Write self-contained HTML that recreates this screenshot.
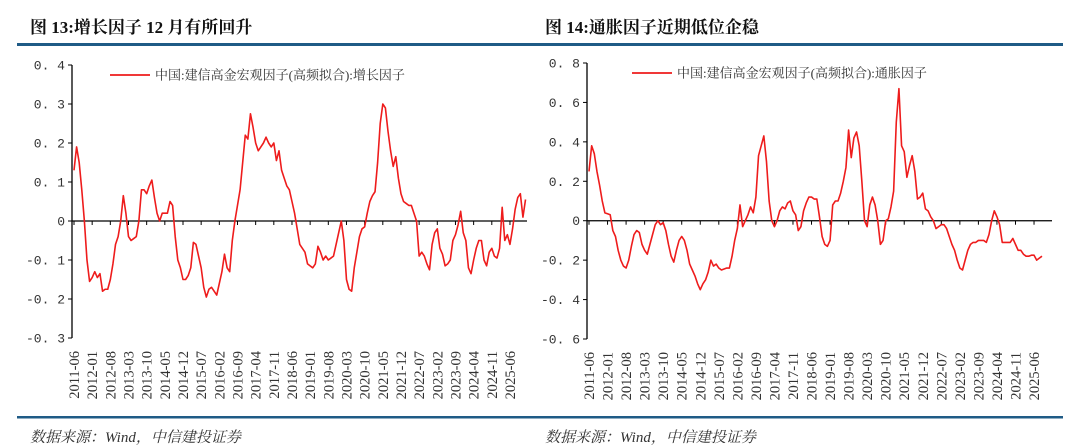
<!DOCTYPE html>
<html><head><meta charset="utf-8">
<style>
body{margin:0;width:1080px;height:448px;background:#fff;overflow:hidden;font-family:"Liberation Serif","Noto Serif CJK SC",serif;}
svg{display:block}
</style></head>
<body>
<svg id="c" width="1080" height="448" xmlns="http://www.w3.org/2000/svg">
  <text x="30" y="33" font-size="17" font-weight="bold" fill="#111" font-family="Liberation Serif, Noto Serif CJK SC, serif">图 13:增长因子 12 月有所回升</text>
  <text x="545" y="33" font-size="17" font-weight="bold" fill="#111" font-family="Liberation Serif, Noto Serif CJK SC, serif">图 14:通胀因子近期低位企稳</text>
  <rect x="17" y="43" width="523" height="3" fill="#1f5b86"/>
  <rect x="540" y="43" width="523" height="3" fill="#1f5b86"/>
  <rect x="17" y="416" width="523" height="2.5" fill="#1f5b86"/>
  <rect x="540" y="416" width="523" height="2.5" fill="#1f5b86"/>
  <text x="30" y="442" font-size="15" font-style="italic" fill="#333">数据来源：Wind，中信建投证券</text>
  <text x="545" y="442" font-size="15" font-style="italic" fill="#333">数据来源：Wind，中信建投证券</text>
  <g id="g1"></g>
  <g id="g2"></g>
</svg>
<script>
const startYear = 2011, startMonth = 6;
const tickLabels = ["2011-06","2012-01","2012-08","2013-03","2013-10","2014-05","2014-12","2015-07","2016-02","2016-09","2017-04","2017-11","2018-06","2019-01","2019-08","2020-03","2020-10","2021-05","2021-12","2022-07","2023-02","2023-09","2024-04","2024-11","2025-06"];
const growthTicks = [0.4,0.3,0.2,0.1,0,-0.1,-0.2,-0.3];
const inflationTicks = [0.8,0.6,0.4,0.2,0,-0.2,-0.4,-0.6];
const growthValues = [0.13,0.19,0.15,0.08,0.0,-0.1,-0.155,-0.145,-0.13,-0.145,-0.135,-0.18,-0.175,-0.175,-0.15,-0.11,-0.06,-0.04,0.0,0.065,0.02,-0.04,-0.05,-0.045,-0.04,0.0,0.08,0.08,0.07,0.09,0.105,0.06,0.02,0.0,0.02,0.02,0.02,0.05,0.04,-0.04,-0.1,-0.12,-0.15,-0.15,-0.14,-0.12,-0.055,-0.06,-0.09,-0.12,-0.17,-0.195,-0.175,-0.17,-0.18,-0.19,-0.16,-0.13,-0.085,-0.12,-0.13,-0.05,0.0,0.04,0.08,0.15,0.22,0.21,0.275,0.24,0.2,0.18,0.19,0.2,0.215,0.2,0.19,0.2,0.155,0.18,0.13,0.11,0.09,0.08,0.05,0.02,-0.02,-0.06,-0.07,-0.08,-0.11,-0.115,-0.12,-0.11,-0.065,-0.08,-0.1,-0.09,-0.1,-0.095,-0.09,-0.06,-0.03,0.0,-0.05,-0.15,-0.175,-0.18,-0.12,-0.08,-0.04,-0.02,-0.015,0.02,0.05,0.065,0.075,0.15,0.25,0.3,0.29,0.23,0.18,0.14,0.165,0.11,0.07,0.05,0.045,0.04,0.04,0.02,0.0,-0.09,-0.08,-0.09,-0.11,-0.125,-0.06,-0.03,-0.02,-0.07,-0.085,-0.115,-0.11,-0.1,-0.05,-0.035,-0.01,0.025,-0.03,-0.05,-0.12,-0.135,-0.1,-0.07,-0.05,-0.05,-0.1,-0.115,-0.08,-0.07,-0.09,-0.095,-0.07,0.035,-0.05,-0.035,-0.06,-0.02,0.03,0.06,0.07,0.01,0.055];
const inflationValues = [0.25,0.38,0.34,0.25,0.18,0.1,0.04,0.035,0.03,-0.05,-0.08,-0.15,-0.2,-0.23,-0.24,-0.2,-0.13,-0.07,-0.05,-0.06,-0.12,-0.15,-0.17,-0.12,-0.07,-0.02,0.0,-0.02,-0.01,-0.05,-0.12,-0.18,-0.21,-0.15,-0.1,-0.08,-0.1,-0.15,-0.22,-0.25,-0.28,-0.32,-0.35,-0.32,-0.3,-0.26,-0.2,-0.23,-0.22,-0.24,-0.25,-0.245,-0.24,-0.24,-0.18,-0.1,-0.04,0.08,-0.03,0.0,0.03,0.07,0.04,0.12,0.33,0.38,0.43,0.3,0.1,0.0,-0.03,0.0,0.05,0.07,0.06,0.09,0.1,0.05,0.03,-0.05,-0.03,0.05,0.09,0.12,0.12,0.11,0.11,0.02,-0.08,-0.12,-0.13,-0.1,0.08,0.1,0.1,0.14,0.2,0.27,0.46,0.32,0.42,0.45,0.38,0.2,0.0,-0.03,0.08,0.12,0.08,0.0,-0.12,-0.1,0.0,0.01,0.07,0.15,0.5,0.67,0.38,0.35,0.22,0.28,0.33,0.25,0.11,0.12,0.14,0.06,0.05,0.02,0.0,-0.04,-0.03,-0.02,-0.02,-0.04,-0.08,-0.12,-0.15,-0.2,-0.24,-0.25,-0.2,-0.15,-0.12,-0.11,-0.11,-0.1,-0.1,-0.1,-0.11,-0.07,0.0,0.05,0.02,-0.02,-0.11,-0.11,-0.11,-0.11,-0.09,-0.12,-0.15,-0.15,-0.17,-0.18,-0.18,-0.175,-0.175,-0.2,-0.19,-0.18];
const growthLegend = "中国:建信高金宏观因子(高频拟合):增长因子";
const inflationLegend = "中国:建信高金宏观因子(高频拟合):通胀因子";

const NS = "http://www.w3.org/2000/svg";
function mk(tag, attrs, parent){const e=document.createElementNS(NS,tag);for(const k in attrs)e.setAttribute(k,attrs[k]);parent.appendChild(e);return e;}
function monthIndex(lbl){const [y,m]=lbl.split("-").map(Number);return (y-startYear)*12+(m-startMonth);}

function draw(g, cfg){
  const yMax=cfg.ticks[0], yMin=cfg.ticks[cfg.ticks.length-1];
  const ys=v=>cfg.yTop+(yMax-v)/(yMax-yMin)*(cfg.yBot-cfg.yTop);
  const xs=i=>cfg.x0+i*cfg.dx;
  const y0=ys(0);
  const ax=mk("line",{x1:cfg.ax,x2:cfg.ax,y1:cfg.yTop,y2:cfg.yBot,stroke:"#000","stroke-width":1.3},g);
  
  
  cfg.ticks.forEach(t=>{
    const y=ys(t);
    const tk=mk("line",{x1:cfg.ax-4,x2:cfg.ax,y1:y,y2:y,stroke:"#000","stroke-width":1},g);
    
    
    const lab=mk("text",{x:cfg.ax-7,y:y+4.5,"text-anchor":"end","font-size":13,fill:"#333","font-family":"Liberation Mono, monospace"},g);
    lab.textContent = t===0 ? "0" : t.toFixed(1).replace(".",". ");
    
    
  });
  const zl=mk("line",{x1:cfg.ax,x2:cfg.xEnd,y1:y0,y2:y0,stroke:"#000","stroke-width":1.3},g);
  
  
  tickLabels.forEach(l=>{
    const x=xs(monthIndex(l));
    const tk=mk("line",{x1:x,x2:x,y1:y0,y2:y0+4,stroke:"#000","stroke-width":1},g);
    
    
    const t=mk("text",{x:0,y:0,"text-anchor":"end","font-size":14.5,fill:"#333","font-family":"Liberation Serif, serif",transform:`translate(${x+5},${cfg.yBot+13}) rotate(-90)`},g);
    t.textContent=l;
    
    
  });
  const d=cfg.values.map((v,i)=>(i?"L":"M")+xs(i).toFixed(2)+","+ys(v).toFixed(2)).join("");
  const p=mk("path",{d:d,fill:"none",stroke:"#ee1c1c","stroke-width":1.6,"stroke-linejoin":"round"},g);
  
  
  const ll=mk("line",{x1:cfg.legX,x2:cfg.legX+40,y1:cfg.legY,y2:cfg.legY,stroke:"#ee1c1c","stroke-width":1.8},g);
  
  
  const lt=mk("text",{x:cfg.legX+45,y:cfg.legY+4.5,"font-size":13,fill:"#333","font-family":"Liberation Serif, Noto Serif CJK SC, serif"},g);
  lt.textContent=cfg.legend;
  
  
}
draw(document.getElementById("g1"),{ticks:growthTicks,values:growthValues,yTop:65,yBot:338,ax:72,x0:74,dx:2.595,xEnd:527,legX:110,legY:75,legend:growthLegend});
draw(document.getElementById("g2"),{ticks:inflationTicks,values:inflationValues,yTop:63,yBot:339,ax:587,x0:589,dx:2.649,xEnd:1052,legX:632,legY:73,legend:inflationLegend});
</script>
</body></html>
